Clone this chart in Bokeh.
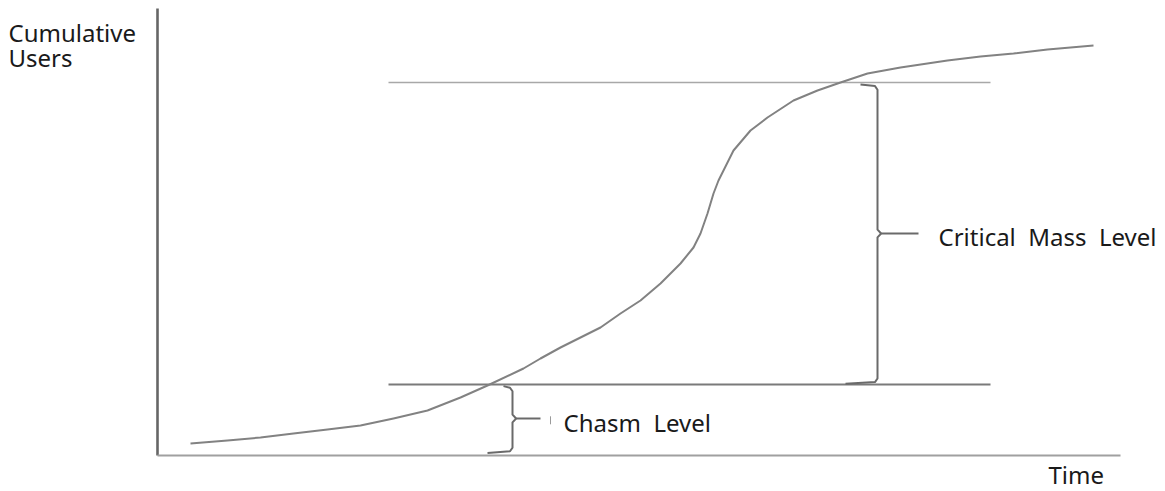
from bokeh.plotting import figure
from bokeh.models import Range1d, Label
from bokeh.embed import file_html
from bokeh.resources import INLINE

# ---- data (time units, cumulative users units) ----
time_vals = [3.3, 7.0, 10.3, 13.6, 17.0, 20.3, 23.6, 27.0, 30.3, 33.0, 36.6, 38.3,
             40.3, 42.3, 44.3, 46.3, 48.3, 50.3, 52.3, 53.6, 54.3, 55.0, 55.6, 56.1,
             57.6, 59.3, 61.0, 63.6, 66.0, 68.3, 71.0, 74.3, 79.0, 82.3, 85.6, 89.0,
             93.6]
users_vals = [3.0, 3.75, 4.5, 5.5, 6.5, 7.5, 9.25, 11.25, 14.5, 17.5, 21.75, 24.25,
              27.0, 29.5, 32.0, 35.5, 38.75, 43.0, 48.0, 52.0, 55.5, 60.5, 65.5, 68.75,
              76.25, 81.25, 84.5, 88.75, 91.25, 93.25, 95.5, 97.0, 98.75, 99.75, 100.5,
              101.5, 102.5]
chasm_level = 17.75
critical_level = 93.25
level_span = [23.1, 83.3]
axis_time_max = 96.3
axis_users_max = 111.75

W, H = 1165, 491
p = figure(width=W, height=H, output_backend="svg", toolbar_location=None,
           x_range=Range1d(-15.7, 100.8), y_range=Range1d(-9, 113.75),
           min_border=0, min_border_left=0, min_border_right=0,
           min_border_top=0, min_border_bottom=0)
p.axis.visible = False
p.grid.visible = False
p.outline_line_color = None
p.background_fill_color = "white"
p.border_fill_color = "white"

# axes
p.line([0, 0], [0, axis_users_max], line_color="#666666", line_width=2.6)
p.line([0, axis_time_max], [0, 0], line_color="#a0a0a0", line_width=2.2)

# level lines
p.line(level_span, [critical_level, critical_level], line_color="#a8a8a8", line_width=1.6)
p.line(level_span, [chasm_level, chasm_level], line_color="#7a7a7a", line_width=2)

# S-curve
p.line(time_vals, users_vals, line_color="#828282", line_width=2, line_join="round")


def brace(x0, y_lo, y_hi, hook_lo_x, hook_hi_x, tip_x, y_mid=None):
    if y_mid is None:
        y_mid = (y_lo + y_hi) / 2
    dx = 0.25
    dy = 1.2
    xs = [hook_hi_x, x0 - dx, x0, x0, x0 + dx, x0 + 0.35, x0 + dx, x0, x0, x0 - dx, hook_lo_x]
    ys = [y_hi + 0.1, y_hi - 0.3, y_hi - dy, y_mid + dy * 0.8, y_mid + 0.3, y_mid,
          y_mid - 0.3, y_mid - dy * 0.8, y_lo + dy, y_lo + 0.3, y_lo - 0.1]
    p.line(xs, ys, line_color="#6a6a6a", line_width=2)
    p.line([x0 + 0.35, tip_x], [y_mid, y_mid], line_color="#6a6a6a", line_width=2)


brace(35.5, 0.75, chasm_level - 0.5, 33.0, 34.6, 38.3, y_mid=9.25)
brace(72.0, chasm_level + 0.3, critical_level - 0.6, 68.8, 70.3, 76.1, y_mid=55.5)
# small stray tick beside the chasm label
p.line([39.3, 39.3], [7.8, 9.8], line_color="#9a9a9a", line_width=1)

font = "Noto Sans"
fs = "24px"
col = "#1a1a1a"
for txt, x, y in [("Cumulative", -14.9, 105.75), ("Users", -14.9, 99.5),
                  ("Time", 89.1, -4.75), ("Chasm \u00a0Level", 40.6, 8.25),
                  ("Critical \u00a0Mass \u00a0Level", 78.1, 54.75)]:
    p.add_layout(Label(x=x, y=y, text=txt, text_font=font, text_font_size=fs,
                       text_color=col, text_baseline="alphabetic", text_align="left"))

open("out.html", "w").write(file_html(p, INLINE))
